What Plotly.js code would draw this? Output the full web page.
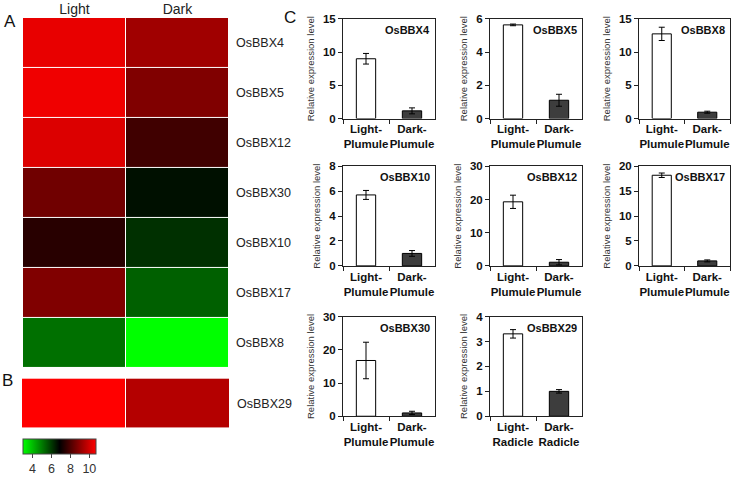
<!DOCTYPE html>
<html>
<head>
<meta charset="utf-8">
<script src="https://cdn.plot.ly/plotly-3.0.1.min.js"></script>
<style>html,body{margin:0;padding:0;background:#fff}#chart{width:735px;height:477px}</style>
</head>
<body>
<div id="chart"></div>
<script>
// ---- Heatmap data (log2 expression) ----
const conditions = ['Light', 'Dark'];
const heatGenes = ['OsBBX4', 'OsBBX5', 'OsBBX12', 'OsBBX30', 'OsBBX10', 'OsBBX17', 'OsBBX8'];
const heatLight = [10.35, 10.47, 10.17, 8.54, 7.45, 8.78, 5.16];
const heatDark  = [9.27, 8.78, 7.82, 6.61, 6.13, 5.40, 3.0];
const heatGenesB = ['OsBBX29'];
const heatLightB = [10.7];
const heatDarkB  = [9.57];
const colorTicks = [4, 6, 8, 10];

// ---- Bar chart data (relative expression) ----
const barGenes  = ['OsBBX4', 'OsBBX5', 'OsBBX8', 'OsBBX10', 'OsBBX12', 'OsBBX17', 'OsBBX30', 'OsBBX29'];
const barTissue = ['Plumule', 'Plumule', 'Plumule', 'Plumule', 'Plumule', 'Plumule', 'Plumule', 'Radicle'];
const lightMean = [9.0, 5.64, 12.75, 5.70, 19.3, 18.2, 16.8, 3.31];
const lightErr  = [0.8, 0.05, 1.0, 0.36, 2.0, 0.45, 5.5, 0.17];
const darkMean  = [1.15, 1.1, 0.95, 1.0, 1.1, 1.0, 1.0, 1.0];
const darkErr   = [0.45, 0.36, 0.15, 0.23, 0.8, 0.2, 0.5, 0.07];
const axisMax   = [15, 6, 15, 8, 30, 20, 30, 4];
const axisStep  = [5, 2, 5, 2, 10, 5, 10, 1];

const FONT = 'Liberation Sans, Arial, sans-serif';
const W = 735, H = 477;
const px = v => v / W;
const py = v => 1 - v / H;

const traces = [];
const layout = {
  width: W, height: H,
  margin: {l: 0, r: 0, t: 0, b: 0},
  paper_bgcolor: '#ffffff', plot_bgcolor: '#ffffff',
  font: {family: FONT, color: '#222'},
  showlegend: false,
  bargap: 0.58,
  annotations: [],
  coloraxis: {
    colorscale: [[0, '#00ff00'], [0.5, '#000000'], [1, '#ff0000']],
    cmin: 3, cmax: 10.7,
    colorbar: {
      orientation: 'h', x: px(23), xanchor: 'left', y: py(441), yanchor: 'top',
      len: 73, lenmode: 'pixels', thickness: 15, thicknessmode: 'pixels',
      xpad: 0, ypad: 0, outlinewidth: 1, outlinecolor: '#444',
      ticks: 'outside', ticklen: 4, tickcolor: '#444',
      tickvals: colorTicks, tickfont: {family: FONT, size: 12.5, color: '#333'}
    }
  }
};

// Heatmap A
traces.push({
  type: 'heatmap', coloraxis: 'coloraxis',
  x: conditions, y: heatGenes,
  z: heatGenes.map((g, i) => [heatLight[i], heatDark[i]]),
  xgap: 1, ygap: 1, xaxis: 'x', yaxis: 'y', hoverinfo: 'skip'
});
layout.xaxis = {domain: [px(23), px(229)], side: 'top', anchor: 'y', showgrid: false, zeroline: false,
  ticks: '', tickfont: {size: 14, color: '#222'}, fixedrange: true};
layout.yaxis = {domain: [py(369), py(18)], side: 'right', anchor: 'x', autorange: 'reversed', showgrid: false,
  zeroline: false, ticks: '', ticklabelstandoff: 6, tickfont: {size: 12.5, color: '#222'}};

// Heatmap B
traces.push({
  type: 'heatmap', coloraxis: 'coloraxis',
  x: conditions, y: heatGenesB,
  z: heatGenesB.map((g, i) => [heatLightB[i], heatDarkB[i]]),
  xgap: 1, ygap: 1, xaxis: 'x2', yaxis: 'y2', hoverinfo: 'skip'
});
layout.xaxis2 = {domain: [px(22), px(230)], anchor: 'y2', showticklabels: false, showgrid: false, zeroline: false, ticks: ''};
layout.yaxis2 = {domain: [py(430), py(380)], side: 'right', anchor: 'x2', showgrid: false, zeroline: false,
  ticks: '', ticklabelstandoff: 6, tickfont: {size: 12.5, color: '#222'}};

// Panel letters
[['A', 10, 22], ['B', 8, 382], ['C', 290, 18]].forEach(([t, x, y]) => {
  layout.annotations.push({text: t, xref: 'paper', yref: 'paper', x: px(x), y: py(y),
    xanchor: 'center', yanchor: 'middle', showarrow: false, font: {size: 17, color: '#111'}});
});

// Bar charts
const cols = [[343, 435], [490, 582], [639, 730]];
const rows = [[19, 119], [167, 267], [318, 418]];
const slots = [[0,0],[0,1],[0,2],[1,0],[1,1],[1,2],[2,0],[2,1]];
barGenes.forEach((g, i) => {
  const n = i + 3;
  const [r, c] = slots[i];
  const xa = 'x' + n, ya = 'y' + n;
  const cats = ['Light-<br>' + barTissue[i], 'Dark-<br>' + barTissue[i]];
  traces.push({
    type: 'bar', x: cats, y: [lightMean[i], darkMean[i]],
    xaxis: xa, yaxis: ya,
    marker: {color: ['#ffffff', '#3d3d3d'], line: {color: '#000', width: 1}},
    error_y: {type: 'data', array: [lightErr[i], darkErr[i]], visible: true, color: '#000', thickness: 1, width: 3},
    hoverinfo: 'skip'
  });
  layout['xaxis' + n] = {
    domain: [px(cols[c][0]), px(cols[c][1])], anchor: ya,
    showline: true, linecolor: '#222', linewidth: 1, mirror: true,
    ticks: 'outside', tickson: 'boundaries', ticklen: 4, tickcolor: '#222',
    tickangle: 0, showgrid: false, zeroline: false,
    tickfont: {size: 11.5, color: '#111', weight: 'bold'}
  };
  layout['yaxis' + n] = {
    domain: [py(rows[r][1]), py(rows[r][0])], anchor: xa,
    range: [0, axisMax[i]], dtick: axisStep[i],
    showline: true, linecolor: '#222', linewidth: 1, mirror: true,
    ticks: 'outside', ticklen: 4, tickcolor: '#222',
    showgrid: false, zeroline: false,
    tickfont: {size: 11.5, color: '#111', weight: 'bold'},
    title: {text: 'Relative expression level', font: {size: 9.5, color: '#333'}, standoff: 6}
  };
  layout.annotations.push({
    text: '<b>' + g + '</b>', xref: xa + ' domain', yref: ya + ' domain',
    x: 0.97, y: 0.97, xanchor: 'right', yanchor: 'top', showarrow: false,
    font: {size: 11, color: '#111'}
  });
});

Plotly.newPlot('chart', traces, layout, {staticPlot: true});
</script>
</body>
</html>
